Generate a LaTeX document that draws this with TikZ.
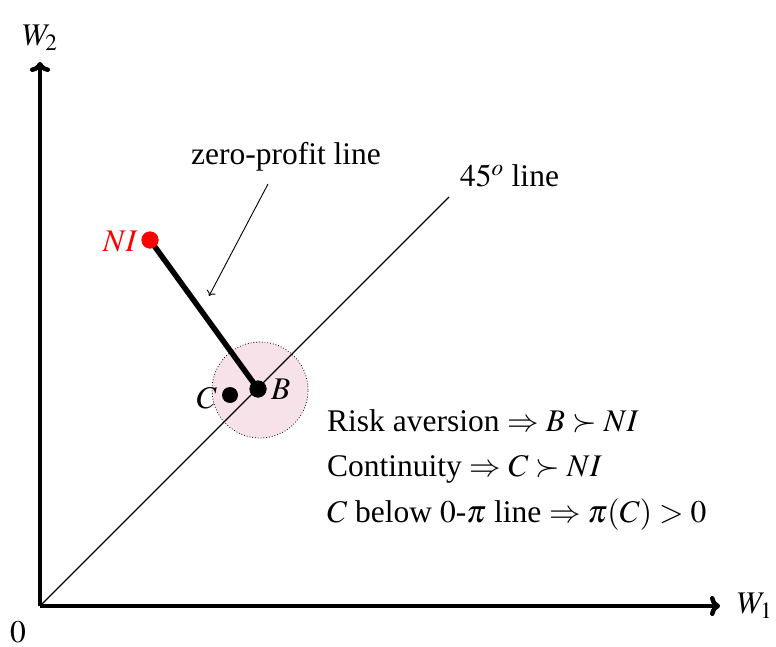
\documentclass[tikz,border=0pt]{standalone}
\usepackage{mathptmx}
\usepackage{fontspec}
\setmainfont{Liberation Serif}
\usetikzlibrary{arrows.meta}
\definecolor{pinkfill}{RGB}{246,226,232}
\tikzset{
  lbl/.style={font=\fontsize{31.5}{36}\selectfont, inner sep=0pt},
  axis/.style={line width=4.5pt, -{To[length=10pt,width=20pt]}},
  dot/.style={circle, fill=black, minimum size=17pt, inner sep=0pt},
}
\begin{document}
\begin{tikzpicture}[x=1pt,y=-1pt]
\useasboundingbox (0,0) rectangle (776,647);
\coordinate (O) at (40,606);
\coordinate (Ytop) at (40,62);
\coordinate (Xend) at (720,606);
\coordinate (D) at (449,197);
% pink circle
\node[circle, minimum size=96pt, fill=pinkfill, draw=black, dotted, line width=0.8pt, inner sep=0pt] (disk) at (260,390) {};
% 45 line
\draw[line width=1.1pt] (O) -- (D);
% axes
\draw[axis] (O) -- (Ytop);
\draw[axis] (O) -- (Xend);
% points
\node[dot, fill=red] (NI) at (150,240) {};
\node[dot] (B) at (258,389) {};
\node[dot, minimum size=16pt] (C) at (230,395) {};
\draw[line width=5.5pt] (NI.center) -- (B.center);
\node[dot, fill=red] at (NI) {};
\node[dot] at (B) {};
% labels
\node[lbl, text=red, anchor=east] (NIl) at (138,242) {$NI$};
\node[lbl, anchor=west] (Bl) at (271,389) {$B$};
\node[lbl, anchor=east] (Cl) at (217,398) {$C$};
\node[lbl] (W2) at (40,38) {$W_2$};
\node[lbl, anchor=west] (W1) at (737,606) {$W_1$};
\node[lbl] (zero) at (18,632) {$0$};
\node[lbl] (zpl) at (286,157) {zero-profit line};
\coordinate (ztip) at (209,296);
\draw[line width=0.9pt, -{To[length=5pt,width=10pt]}] (268,184) -- (ztip);
\node[lbl, anchor=west] (fortyfive) at (460,176) {$45^o$ line};
\node[lbl, anchor=base west] (t1) at (327,431) {Risk aversion $\Rightarrow B\succ NI$};
\node[lbl, anchor=base west] (t2) at (327,476) {Continuity $\Rightarrow C\succ NI$};
\node[lbl, anchor=base west] (t3) at (327,522) {$C$ below $0$-$\pi$ line $\Rightarrow \pi(C)>0$};
\end{tikzpicture}
\end{document}
